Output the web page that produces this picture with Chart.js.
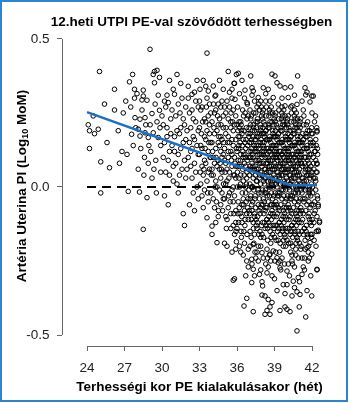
<!DOCTYPE html>
<html>
<head>
<meta charset="utf-8">
<script src="https://cdn.jsdelivr.net/npm/chart.js@4.4.1/dist/chart.umd.min.js"></script>
<style>
  html, body { margin: 0; padding: 0; background: #fff; }
  #wrap { width: 350px; height: 403px; }
</style>
</head>
<body>
<div id="wrap"><canvas id="chart" width="350" height="403"></canvas></div>
<script>
// ----------------- Data -----------------
// [gestational week at PE onset, uterine artery PI (log10 MoM)]
const pe24to29 = [
  [24.2,0.19],[24.9,0.195],[24.6,0.18],[24.2,0.13],[24.5,0.24],[24.1,0.21],
  [25.0,0.39],[25.1,0.085],[25.8,0.065],[25.4,0.28],[25.1,-0.02],[25.6,0.15],
  [26.6,0.08],[26.2,0.26],[26.9,0.25],[26.2,0.33],[26.5,0.19],[26.8,0.12],
  [27.65,0.38],[27.4,0.355],[27.8,0.33],[27.8,0.30],[27.3,-0.015],[27.84,0.234],[27.57,0.178],[27.9,0.2],[27.2,0.11],[27.5,0.27],[27.7,0.14],[27.1,0.29],
  [28.0,0.315],[28.5,0.327],[28.5,0.307],[28.8,0.293],[28.4,0.294],[28.24,0.229],[28.64,0.234],[28.1,0.195],[28.24,0.172],[28.64,0.183],
  [28.9,0.167],[28.2,-0.017],[28.8,-0.036],[28.5,-0.143],[28.3,0.13],[28.6,0.1],[28.9,0.08],[28.1,0.06],[28.7,0.21],[28.4,0.26],[28.95,0.14],[28.55,0.04],
  [29.04,0.465],[29.4,0.39],[29.6,0.394],[29.3,0.38],[29.8,0.37],[29.4,0.352],[29.2,0.248],[29.8,0.259],[29.3,0.183],[29.7,0.167],
  [29.84,0.2],[29.1,0.12],[29.5,0.09],[29.9,0.05],[29.2,0.03],[29.6,0.22],[29.45,0.28],[29.9,0.14],[29.05,0.21],[29.7,0.31],[29.35,0.06],[29.55,-0.02]
];
const pe30to32 = [
  [30.1,0.21],[30.4,0.31],[30.5,0.285],[30.8,0.26],[30.9,0.33],[30.2,0.15],[30.6,0.12],[30.3,0.05],[30.7,0.18],[30.0,0.24],
  [30.5,0.09],[30.9,0.02],[30.2,-0.03],[30.6,0.36],[30.4,0.2],[30.8,0.14],[30.1,0.1],[30.7,0.23],[30.3,0.27],[30.9,0.07],
  [30.5,-0.06],[30.4,0.17],[30.6,0.04],[30.2,0.29],
  [31.0,0.313],[31.3,0.28],[31.44,0.25],[31.2,0.19],[31.7,0.23],[31.0,0.17],[31.5,0.13],[31.8,0.21],[31.1,0.08],[31.6,0.06],
  [31.9,0.16],[31.3,0.11],[31.7,-0.09],[31.8,-0.13],[31.2,0.01],[31.5,0.35],[31.9,0.27],[31.4,0.04],[31.1,0.24],[31.6,0.3],
  [31.0,0.12],[31.8,0.09],[31.3,-0.02],[31.5,0.2],[31.7,0.15],[31.2,0.38],[31.9,0.03],[31.4,0.18],
  [32.1,0.3],[32.4,0.313],[32.2,0.25],[32.7,0.22],[32.5,0.17],[32.9,0.27],[32.3,0.12],[32.6,0.08],[32.8,0.14],[32.0,0.19],
  [32.4,0.03],[32.9,-0.04],[32.2,-0.06],[32.6,0.32],[32.8,0.36],[32.5,0.23],[32.1,0.1],[32.7,0.05],[32.3,0.2],[32.9,0.11],
  [32.0,0.06],[32.6,0.16],[32.4,0.26],[32.8,0.0],[32.2,0.15],[32.5,-0.02],[32.7,0.29],[32.1,0.34],[32.9,0.19],[32.3,0.07],
  [32.6,-0.08],[32.4,0.13]
];
const pe33to35 = [
  [33.04,0.33],[33.6,0.452],[33.7,0.324],[33.6,-0.104],[33.2,0.27],[33.5,0.22],[33.8,0.18],[33.1,0.14],[33.4,0.09],[33.9,0.25],
  [33.3,0.04],[33.7,0.12],[33.0,0.2],[33.5,0.16],[33.8,0.06],[33.2,-0.03],[33.6,0.3],[33.9,0.1],[33.4,0.23],[33.1,0.01],
  [33.7,-0.05],[33.3,0.36],[33.5,0.08],[33.8,0.28],[33.0,0.11],[33.6,0.19],[33.2,0.13],[33.9,-0.02],[33.4,0.17],[33.7,0.05],
  [33.1,0.26],[33.5,0.34],[33.3,-0.07],[33.8,0.21],[33.6,0.02],[33.9,0.15],[33.2,0.07],[33.4,-0.01],[33.0,0.29],[33.7,0.24],
  [34.0,-0.132],[34.0,-0.16],[34.4,-0.188],[34.1,0.341],[34.24,0.307],[34.8,0.29],[34.3,0.26],[34.6,0.23],[34.9,0.2],[34.2,0.18],
  [34.5,0.15],[34.7,0.12],[34.1,0.1],[34.4,0.07],[34.8,0.05],[34.3,0.02],[34.6,-0.01],[34.9,-0.04],[34.2,-0.07],[34.5,-0.1],
  [34.7,0.27],[34.0,0.22],[34.9,0.33],[34.6,0.36],[34.3,0.13],[34.8,0.16],[34.1,0.04],[34.5,0.09],[34.7,-0.06],[34.4,0.19],
  [34.9,0.11],[34.2,0.25],[34.6,0.06],[34.0,0.15],[34.8,-0.02],[34.3,0.31],[34.5,0.21],[34.1,-0.04],[34.7,0.17],[34.4,0.0],
  [34.9,0.24],[34.2,0.08],[34.6,0.14],[34.3,-0.12],[34.8,0.1],[34.5,0.28],[34.0,0.06],[34.7,0.03],
  [35.0,-0.19],[35.2,-0.2],[35.6,-0.22],[35.9,-0.21],[35.95,-0.185],[35.8,-0.31],[35.2,0.29],[35.4,0.32],[35.8,0.35],[35.95,0.38],
  [35.3,0.39],[35.1,0.25],[35.5,0.22],[35.7,0.19],[35.9,0.16],[35.0,0.13],[35.3,0.1],[35.6,0.07],[35.8,0.04],[35.1,0.01],
  [35.4,-0.02],[35.7,-0.05],[35.9,-0.08],[35.2,-0.11],[35.5,-0.14],[35.8,-0.16],[35.0,0.27],[35.6,0.3],[35.3,0.17],[35.9,0.24],
  [35.5,0.12],[35.1,0.08],[35.7,0.14],[35.4,0.05],[35.8,0.1],[35.2,0.02],[35.6,-0.01],[35.0,-0.04],[35.9,-0.12],[35.3,-0.07],
  [35.7,0.26],[35.5,0.2],[35.1,0.18],[35.8,0.21],[35.4,0.15],[35.6,0.11],[35.2,0.06],[35.9,0.03],[35.3,0.23],[35.7,0.0],
  [35.5,-0.09],[35.0,0.09],[35.8,-0.03],[35.4,0.27],[35.6,0.16],[35.1,-0.1],[35.9,0.07],[35.3,0.12],[35.7,-0.13],
  [33.15,0.18],[33.35,0.06],[33.55,0.27],[33.75,0.15],[33.95,0.04],[34.05,0.12],[34.25,0.0],[34.45,0.24],[34.65,0.08],[34.85,-0.08],
  [34.15,0.2],[34.35,-0.05],[34.55,0.17],[34.75,0.06],[34.95,0.15],[35.05,0.05],[35.25,0.15],[35.45,-0.05],[35.65,0.22],[35.85,0.08],
  [35.15,-0.14],[35.35,0.03],[35.55,0.09],[35.75,-0.09],[35.95,0.13],[35.12,0.2],[35.32,-0.03],[35.52,0.25],[35.72,0.04],[35.92,-0.15],
  [34.12,0.28],[34.32,0.1],[34.52,-0.08],[34.72,0.21],[34.92,0.01],[33.45,0.13],[33.65,-0.02],[33.85,0.1],[33.25,0.22],[33.05,0.05]
];
const pe36to38 = [
  [36.0,0.12],[36.1,-0.05],[36.2,0.2],[36.3,0.04],[36.4,-0.12],[36.5,0.16],[36.6,0.08],[36.7,-0.02],[36.8,0.23],[36.9,0.1],
  [36.05,0.27],[36.15,0.14],[36.25,-0.09],[36.35,0.19],[36.45,0.06],[36.55,-0.15],[36.65,0.25],[36.75,0.01],[36.85,-0.07],[36.95,0.17],
  [36.1,0.09],[36.3,0.22],[36.5,-0.04],[36.7,0.13],[36.9,-0.11],[36.2,0.0],[36.4,0.18],[36.6,-0.08],[36.8,0.05],[36.0,-0.14],
  [36.15,0.03],[36.35,-0.17],[36.55,0.11],[36.75,0.2],[36.95,-0.01],[36.25,0.15],[36.45,0.26],[36.65,-0.11],[36.85,0.14],[36.05,0.07],
  [36.2,-0.2],[36.6,0.3],[36.9,0.24],[36.4,-0.06],[36.7,0.07],[36.3,0.11],[36.8,-0.16],[36.1,0.17],[36.5,0.02],[36.0,0.21],
  [36.03,0.05],[36.12,0.13],[36.18,-0.07],[36.27,0.09],[36.33,0.21],[36.42,-0.02],[36.48,0.1],[36.57,0.19],[36.63,-0.13],[36.72,0.16],
  [36.78,0.03],[36.87,-0.04],[36.93,0.12],[36.08,0.19],[36.22,0.07],[36.38,-0.1],[36.52,0.24],[36.68,0.0],[36.82,0.09],[36.97,-0.08],
  [36.13,-0.12],[36.28,0.01],[36.43,0.14],[36.58,0.04],[36.73,-0.05],[36.88,0.18],[36.02,0.0],[36.17,0.22],[36.32,-0.15],[36.47,0.12],
  [36.62,0.15],[36.77,-0.09],[36.92,0.06],[36.07,-0.09],[36.37,0.07],[36.67,0.1],[36.97,0.2],[36.53,-0.06],[36.83,0.28],[36.23,0.17],
  [37.0,0.15],[37.1,-0.03],[37.2,0.08],[37.3,0.21],[37.4,-0.1],[37.5,0.13],[37.6,0.02],[37.7,-0.06],[37.8,0.18],[37.9,0.05],
  [37.05,-0.15],[37.15,0.24],[37.25,0.11],[37.35,-0.01],[37.45,0.16],[37.55,-0.13],[37.65,0.22],[37.75,0.09],[37.85,-0.09],[37.95,0.27],
  [37.0,0.04],[37.2,-0.08],[37.4,0.19],[37.6,0.12],[37.8,-0.04],[37.1,0.1],[37.3,-0.12],[37.5,0.25],[37.7,0.06],[37.9,-0.17],
  [37.15,0.0],[37.35,0.14],[37.55,0.2],[37.75,-0.02],[37.95,0.11],[37.05,0.18],[37.25,-0.05],[37.45,0.07],[37.65,-0.1],[37.85,0.15],
  [37.1,0.23],[37.3,0.03],[37.5,-0.07],[37.7,0.17],[37.9,0.01],[37.2,0.13],[37.4,-0.16],[37.6,0.09],[37.8,0.26],[37.0,-0.09],
  [37.25,0.17],[37.45,-0.03],[37.65,0.05],[37.85,0.21],[37.05,0.07],[37.35,-0.19],[37.55,0.02],[37.75,0.13],[37.95,-0.06],[37.15,-0.11],
  [37.4,0.29],[37.6,-0.14],[37.8,0.08],[37.3,0.1],[37.7,-0.2],[37.1,0.06],[37.5,0.16],[37.9,0.19],[37.2,0.31],[37.6,0.27],
  [37.03,0.01],[37.12,0.12],[37.18,-0.06],[37.27,0.07],[37.33,0.2],[37.42,-0.04],[37.48,0.09],[37.57,0.17],[37.63,-0.12],[37.72,0.14],
  [37.78,0.03],[37.87,-0.07],[37.93,0.16],[37.08,0.21],[37.22,0.05],[37.38,-0.09],[37.52,0.22],[37.68,-0.01],[37.82,0.11],[37.97,-0.13],
  [37.13,-0.17],[37.28,0.0],[37.43,0.12],[37.58,0.06],[37.73,-0.16],[37.88,0.2],[37.02,0.1],[37.17,0.16],[37.32,-0.14],[37.47,0.04],
  [37.62,0.18],[37.77,-0.08],[37.92,0.08],[37.07,-0.04],[37.37,0.06],[37.67,0.11],[37.97,0.24],[37.53,-0.11],[37.83,0.04],[37.23,0.19],
  [37.04,0.26],[37.34,0.25],[37.64,0.23],[37.94,-0.02],[37.14,0.15],[37.44,-0.22],[37.74,0.28],[37.24,0.0],[37.54,0.14],[37.84,-0.15],
  [38.0,0.1],[38.1,-0.04],[38.2,0.17],[38.3,0.03],[38.4,-0.11],[38.5,0.2],[38.6,0.07],[38.7,-0.06],[38.8,0.14],[38.9,0.0],
  [38.05,0.23],[38.15,0.12],[38.25,-0.08],[38.35,0.16],[38.45,-0.14],[38.55,0.05],[38.65,0.25],[38.75,-0.02],[38.85,0.19],[38.95,-0.1],
  [38.0,-0.16],[38.2,0.06],[38.4,0.13],[38.6,-0.03],[38.8,0.22],[38.1,0.18],[38.3,-0.07],[38.5,0.09],[38.7,0.15],[38.9,-0.13],
  [38.15,0.02],[38.35,0.27],[38.55,-0.1],[38.75,0.11],[38.95,0.04],[38.05,-0.01],[38.25,0.21],[38.45,0.08],[38.65,-0.15],[38.85,0.06],
  [38.1,0.14],[38.3,0.19],[38.5,-0.05],[38.7,0.02],[38.9,0.17],[38.2,-0.12],[38.4,0.04],[38.6,0.16],[38.8,-0.08],[38.0,0.07],
  [38.25,0.1],[38.45,-0.18],[38.65,0.12],[38.85,-0.04],[38.05,0.15],[38.35,-0.02],[38.55,0.24],[38.75,0.07],[38.95,0.21],[38.15,-0.09],
  [38.3,0.29],[38.7,-0.19],[38.1,0.26],[38.9,0.1],[38.5,0.13],[38.2,0.01],[38.6,0.2],[38.4,-0.21],[38.8,0.03],[38.0,0.18],
  [38.45,0.16],[38.65,0.05],[38.25,-0.14],[38.85,0.25],[38.55,0.0],[38.35,0.08],[38.75,-0.11],[38.15,0.22],[38.95,-0.06],[38.05,-0.12],
  [38.03,0.04],[38.12,0.11],[38.18,-0.05],[38.27,0.06],[38.33,0.19],[38.42,-0.03],[38.48,0.1],[38.57,0.16],[38.63,-0.13],[38.72,0.13],
  [38.78,0.01],[38.87,-0.09],[38.93,0.14],[38.08,0.2],[38.22,0.03],[38.38,-0.11],[38.52,0.21],[38.68,0.0],[38.82,0.09],[38.97,-0.14],
  [38.13,-0.17],[38.28,-0.01],[38.43,0.11],[38.58,0.07],[38.73,-0.17],[38.88,0.18],[38.02,0.12],[38.17,0.15],[38.32,-0.13],[38.47,0.02],
  [38.62,0.17],[38.77,-0.06],[38.92,0.07],[38.07,-0.06],[38.37,0.05],[38.67,0.09],[38.97,0.23],[38.53,-0.12],[38.83,0.02],[38.23,0.18],
  [38.04,0.25],[38.34,0.24],[38.64,0.22],[38.94,-0.03],[38.14,0.13],[38.44,-0.24],[38.74,0.27],[38.24,-0.02],[38.54,0.12],[38.84,-0.16],
  [38.09,0.08],[38.39,-0.07],[38.69,-0.09],[38.99,0.12],[38.59,0.26]
];
const pe39to42 = [
  [39.0,0.08],[39.1,-0.05],[39.2,0.16],[39.3,0.02],[39.4,-0.12],[39.5,0.19],[39.6,0.06],[39.7,-0.08],[39.8,0.13],[39.9,-0.01],
  [39.05,0.22],[39.15,0.1],[39.25,-0.09],[39.35,0.15],[39.45,-0.16],[39.55,0.04],[39.65,0.24],[39.75,-0.03],[39.85,0.18],[39.95,-0.11],
  [39.0,-0.17],[39.2,0.05],[39.4,0.12],[39.6,-0.04],[39.8,0.21],[39.1,0.17],[39.3,-0.07],[39.5,0.08],[39.7,0.14],[39.9,-0.14],
  [39.15,0.01],[39.35,0.26],[39.55,-0.11],[39.75,0.1],[39.95,0.03],[39.05,-0.02],[39.25,0.2],[39.45,0.07],[39.65,-0.15],[39.85,0.05],
  [39.1,0.13],[39.3,0.18],[39.5,-0.06],[39.7,0.01],[39.9,0.16],[39.2,-0.13],[39.4,0.03],[39.6,0.15],[39.8,-0.09],[39.0,0.06],
  [39.25,0.09],[39.45,-0.19],[39.65,0.11],[39.85,-0.05],[39.05,0.14],[39.35,-0.03],[39.55,0.23],[39.75,0.06],[39.95,0.2],[39.15,-0.1],
  [39.3,0.28],[39.7,-0.2],[39.1,0.25],[39.9,0.09],[39.5,0.12],[39.2,0.0],[39.6,0.19],[39.4,-0.22],[39.8,0.02],[39.0,0.17],
  [39.45,0.15],[39.65,0.04],[39.25,-0.15],[39.85,0.24],[39.55,-0.01],[39.35,0.07],[39.75,-0.12],[39.15,0.21],[39.95,-0.07],[39.05,-0.13],
  [39.3,-0.18],[39.6,0.27],[39.8,-0.16],[39.2,0.11],[39.7,0.22],
  [39.03,0.03],[39.12,0.1],[39.18,-0.06],[39.27,0.05],[39.33,0.18],[39.42,-0.02],[39.48,0.09],[39.57,0.15],[39.63,-0.14],[39.72,0.12],
  [39.78,0.0],[39.87,-0.1],[39.93,0.13],[39.08,0.19],[39.22,0.02],[39.38,-0.12],[39.52,0.2],[39.68,-0.01],[39.82,0.08],[39.97,-0.15],
  [39.13,-0.18],[39.28,-0.02],[39.43,0.1],[39.58,0.06],[39.73,-0.18],[39.88,0.17],[39.02,0.11],[39.17,0.14],[39.32,-0.14],[39.47,0.01],
  [39.62,0.16],[39.77,-0.07],[39.92,0.06],[39.07,-0.07],[39.37,0.04],[39.67,0.08],[39.97,0.22],[39.53,-0.13],[39.83,0.01],[39.23,0.17],
  [39.04,0.24],[39.34,0.23],[39.64,0.21],[39.94,-0.04],[39.14,0.12],[39.44,-0.25],[39.74,0.26],[39.24,-0.03],[39.54,0.11],[39.84,-0.17],
  [39.09,0.07],[39.39,-0.08],[39.69,-0.1],[39.99,0.11],[39.59,0.25],
  [40.0,0.07],[40.1,-0.06],[40.2,0.15],[40.3,0.01],[40.4,-0.13],[40.5,0.18],[40.6,0.05],[40.7,-0.09],[40.8,0.12],[40.9,-0.02],
  [40.05,0.21],[40.15,0.09],[40.25,-0.1],[40.35,0.14],[40.45,-0.17],[40.55,0.03],[40.65,0.23],[40.75,-0.04],[40.85,0.17],[40.95,-0.12],
  [40.0,-0.18],[40.2,0.04],[40.4,0.11],[40.6,-0.05],[40.8,0.2],[40.1,0.16],[40.3,-0.08],[40.5,0.07],[40.7,0.13],[40.9,-0.15],
  [40.15,0.0],[40.35,0.25],[40.55,-0.12],[40.75,0.09],[40.95,0.02],[40.05,-0.03],[40.25,0.19],[40.45,0.06],[40.65,-0.16],[40.85,0.04],
  [40.1,0.12],[40.3,0.17],[40.5,-0.07],[40.7,0.0],[40.9,0.15],[40.2,-0.14],[40.4,0.02],[40.6,0.14],[40.8,-0.1],[40.0,0.05],
  [40.25,0.08],[40.45,-0.2],[40.65,0.1],[40.85,-0.06],[40.05,0.13],[40.35,-0.04],[40.55,0.22],[40.75,0.05],[40.95,0.19],[40.15,-0.11],
  [40.3,0.27],[40.7,-0.21],[40.1,0.24],[40.9,0.08],[40.5,0.11],[40.2,-0.01],[40.6,0.18],[40.4,-0.23],[40.8,0.01],[40.0,0.16],
  [40.45,0.14],[40.65,0.03],[40.25,-0.16],[40.85,0.23],[40.55,-0.02],[40.35,0.06],[40.75,-0.13],[40.15,0.2],[40.95,-0.08],[40.05,-0.14],
  [40.3,-0.19],[40.6,0.26],[40.8,-0.17],[40.2,0.1],[40.7,0.21],
  [40.03,0.02],[40.12,0.09],[40.18,-0.07],[40.27,0.04],[40.33,0.17],[40.42,-0.03],[40.48,0.08],[40.57,0.14],[40.63,-0.15],[40.72,0.11],
  [40.78,-0.01],[40.87,-0.11],[40.93,0.12],[40.08,0.18],[40.22,0.01],[40.38,-0.13],[40.52,0.19],[40.68,-0.02],[40.82,0.07],[40.97,-0.16],
  [40.13,-0.19],[40.28,-0.03],[40.43,0.09],[40.58,0.05],[40.73,-0.19],[40.88,0.16],[40.02,0.1],[40.17,0.13],[40.32,-0.15],[40.47,0.0],
  [40.62,0.15],[40.77,-0.08],[40.92,0.05],[40.07,-0.08],[40.37,0.03],[40.67,0.07],[40.97,0.21],[40.53,-0.14],[40.83,0.0],[40.23,0.16],
  [40.04,0.23],[40.34,0.22],[40.64,0.2],[40.94,-0.05],[40.14,0.11],[40.44,-0.26],[40.74,0.25],[40.24,-0.04],[40.54,0.1],[40.84,-0.18],
  [40.09,0.06],[40.39,-0.09],[40.69,-0.11],[40.99,0.1],[40.59,0.24],
  [41.0,0.06],[41.1,-0.07],[41.2,0.14],[41.3,0.0],[41.4,-0.14],[41.5,0.17],[41.6,0.04],[41.7,-0.1],[41.8,0.11],[41.9,-0.03],
  [41.05,0.2],[41.15,0.08],[41.25,-0.11],[41.35,0.13],[41.45,-0.18],[41.55,0.02],[41.65,0.22],[41.75,-0.05],[41.85,0.16],[41.95,-0.13],
  [41.0,-0.19],[41.2,0.03],[41.4,0.1],[41.6,-0.06],[41.8,0.19],[41.1,0.15],[41.3,-0.09],[41.5,0.06],[41.7,0.12],[41.9,-0.16],
  [41.15,-0.01],[41.35,0.24],[41.55,-0.13],[41.75,0.08],[41.95,0.01],[41.05,-0.04],[41.25,0.18],[41.45,0.05],[41.65,-0.17],[41.85,0.03],
  [41.1,0.11],[41.3,0.16],[41.5,-0.08],[41.7,-0.01],[41.9,0.14],[41.2,-0.15],[41.4,0.01],[41.6,0.13],[41.8,-0.11],[41.0,0.04],
  [41.25,0.07],[41.45,-0.21],[41.65,0.09],[41.85,-0.07],[41.05,0.12],[41.35,-0.05],[41.55,0.21],[41.75,0.04],[41.95,0.18],[41.15,-0.12],
  [41.3,0.26],[41.7,-0.22],[41.1,0.23],[41.9,0.07],[41.5,0.1],[41.2,-0.02],[41.6,0.17],[41.4,-0.24],[41.8,0.0],[41.0,0.15],
  [41.03,0.01],[41.12,0.08],[41.18,-0.08],[41.27,0.03],[41.33,0.16],[41.42,-0.04],[41.48,0.07],[41.57,0.13],[41.63,-0.16],[41.72,0.1],
  [41.78,-0.02],[41.87,-0.12],[41.93,0.11],[41.08,0.17],[41.22,0.0],[41.38,-0.14],[41.52,0.18],[41.68,-0.03],[41.82,0.06],[41.97,-0.17],
  [41.13,-0.2],[41.28,-0.04],[41.43,0.08],[41.58,0.04],[41.73,-0.2],[41.88,0.15],[41.02,0.09],[41.17,0.12],[41.32,-0.16],[41.47,-0.01],
  [41.62,0.14],[41.77,-0.09],[41.92,0.04],[41.07,-0.09],[41.37,0.02],[41.67,0.06],[41.97,0.2],[41.53,-0.15],[41.83,-0.01],[41.23,0.15],
  [41.04,0.22],[41.34,0.21],[41.64,0.19],[41.94,-0.06],[41.14,0.1],
  [42.0,0.05],[42.1,-0.06],[42.2,0.12],[42.3,-0.01],[42.4,0.08],[42.05,0.18],[42.15,-0.12],[42.25,0.03],[42.35,0.14],[42.45,-0.04],
  [42.0,-0.16],[42.2,0.22],[42.4,-0.1],[42.1,0.1],[42.3,0.16],[42.05,-0.02],[42.25,-0.08],[42.15,0.06],[42.35,-0.15],[42.0,0.25],
  [42.4,0.19],[42.4,0.05],[42.3,0.02],[42.5,-0.06],[42.6,-0.12],[42.5,-0.15],[42.4,-0.28],[42.1,0.14],[42.45,0.11],[42.3,0.09],
  [42.03,0.0],[42.12,0.08],[42.18,-0.09],[42.27,0.12],[42.33,0.05],[42.42,-0.03],[42.08,0.15],[42.22,-0.05],[42.38,0.2],[42.02,-0.11],
  [42.28,0.24],[42.13,0.03],[42.43,0.13],[42.17,-0.18],[42.32,-0.2]
];
const peLateHigh = [
  [36.1,0.384],[37.1,0.375],[39.04,0.375],[40.85,0.375],[35.76,0.35],[36.64,0.327],[36.2,0.315],[37.2,0.335],[37.3,0.324],[38.1,0.335],
  [38.5,0.33],[39.2,0.352],[39.44,0.341],[39.84,0.335],[40.3,0.338],[41.44,0.335],[41.5,0.311],[41.98,0.307],[41.84,0.287],[40.8,0.279],
  [40.4,0.274],[39.84,0.274],[40.1,0.302],[38.9,0.302],[38.64,0.29],[37.7,0.302],[36.8,0.285],[35.84,0.296],[35.6,0.33],[38.8,0.381],
  [42.1,0.307],[42.4,0.186],[41.2,0.29],[41.6,0.32],[40.6,0.31],[39.6,0.3],[38.3,0.315],[37.9,0.29],[36.4,0.36]
];
const peLateLow = [
  [36.78,-0.25],[37.18,-0.244],[37.3,-0.278],[37.8,-0.295],[37.18,-0.323],[38.05,-0.334],[36.78,-0.376],[36.56,-0.402],[37.3,-0.421],[38.0,-0.365],
  [38.24,-0.368],[38.5,-0.38],[38.8,-0.39],[38.64,-0.405],[38.4,-0.417],[38.24,-0.43],[38.64,-0.43],[39.44,-0.417],[39.84,-0.405],[40.0,-0.413],
  [40.24,-0.421],[40.98,-0.405],[41.5,-0.439],[40.8,-0.486],[39.84,-0.36],[40.4,-0.368],[40.8,-0.354],[41.04,-0.363],[41.98,-0.368],[42.4,-0.278],
  [41.98,-0.227],[41.6,-0.205],[41.84,-0.188],[41.2,-0.295],[40.9,-0.306],[40.5,-0.318],[40.0,-0.284],[39.44,-0.273],[39.3,-0.256],[39.04,-0.25],
  [39.2,-0.239],[38.9,-0.216],[38.64,-0.227],[38.0,-0.222],[37.7,-0.25],[37.04,-0.2],[37.3,-0.194],[35.7,-0.315],
  [36.3,-0.22],[36.9,-0.27],[37.5,-0.24],[38.3,-0.26],[38.8,-0.3],[39.6,-0.24],[40.1,-0.26],[40.7,-0.23],[41.3,-0.27],[41.8,-0.24],
  [37.9,-0.2],[39.9,-0.2],[41.1,-0.21],[36.6,-0.19],[38.6,-0.23],[40.4,-0.25],[42.5,-0.066],[42.6,-0.115],[42.5,-0.146],[42.4,0.077],
  [36.5,-0.23],[36.9,-0.21],[37.2,-0.26],[37.6,-0.22],[37.9,-0.28],[38.1,-0.24],[38.4,-0.29],[38.7,-0.25],[39.0,-0.31],[39.1,-0.22],
  [39.5,-0.28],[39.8,-0.26],[40.2,-0.3],[40.3,-0.22],[40.6,-0.27],[40.9,-0.24],[41.0,-0.32],[41.4,-0.28],[41.7,-0.25],[41.9,-0.3],
  [38.0,-0.32],[39.7,-0.33],[40.6,-0.34],[37.4,-0.3],[41.6,-0.35],[36.7,-0.3],[39.2,-0.35],[40.0,-0.33],[38.5,-0.27],[41.2,-0.24]
];
// fitted trend (blue) and zero reference (dashed)
const trendLine = [[24, 0.253], [40.3, 0.006], [42.4, 0.006]];
const zeroLine = [[24, 0], [42, 0]];
const xTicks = [24, 27, 30, 33, 36, 39, 42];
const yTicks = [-0.5, 0, 0.5];

const FONT = "'Liberation Sans', Arial, sans-serif";

// ----------------- Plugins -----------------
const decorations = {
  id: "decorations",
  beforeDraw(chart) {
    const ctx = chart.ctx;
    ctx.save();
    ctx.fillStyle = "#fff";
    ctx.fillRect(0, 0, chart.width, chart.height);
    ctx.restore();
  },
  afterDraw(chart) {
    const ctx = chart.ctx;
    const xs = chart.scales.x, ys = chart.scales.y;
    const area = chart.chartArea;
    ctx.save();
    // R style axis lines spanning first..last tick
    ctx.strokeStyle = "#666";
    ctx.lineWidth = 1;
    ctx.beginPath();
    const yb = Math.round(area.bottom) + 0.5;
    ctx.moveTo(xs.getPixelForValue(xTicks[0]), yb);
    ctx.lineTo(xs.getPixelForValue(xTicks[xTicks.length - 1]), yb);
    const xl = Math.round(area.left) + 0.5;
    ctx.moveTo(xl, ys.getPixelForValue(yTicks[0]));
    ctx.lineTo(xl, ys.getPixelForValue(yTicks[yTicks.length - 1]));
    ctx.stroke();

    // titles
    ctx.fillStyle = "#000";
    ctx.textBaseline = "middle";
    ctx.textAlign = "center";
    ctx.font = "bold 13.5px " + FONT;
    ctx.fillText("12.heti UTPI PE-val szövődött terhességben", 191.5, 22);
    ctx.fillText("Terhességi kor PE kialakulásakor (hét)", 199.5, 387);

    // y title with subscript
    const part1 = "Artéria Uterina PI (Log", sub = "10", part2 = " MoM)";
    const big = "bold 13.5px " + FONT, small = "bold 9px " + FONT;
    ctx.font = big;
    const w1 = ctx.measureText(part1).width, w3 = ctx.measureText(part2).width;
    ctx.font = small;
    const w2 = ctx.measureText(sub).width;
    const total = w1 + w2 + w3;
    ctx.translate(22, 186);
    ctx.rotate(-Math.PI / 2);
    ctx.textAlign = "left";
    let x0 = -total / 2;
    ctx.font = big;
    ctx.fillText(part1, x0, 0);
    ctx.font = small;
    ctx.fillText(sub, x0 + w1, 3.5);
    ctx.font = big;
    ctx.fillText(part2, x0 + w1 + w2, 0);
    ctx.restore();

    // frame
    ctx.save();
    ctx.strokeStyle = "#2b83d6";
    ctx.lineWidth = 2;
    ctx.strokeRect(1, 1, 346, 400);
    ctx.restore();
  }
};

// ----------------- Chart -----------------
const toXY = arr => arr.map(([x, y]) => ({ x, y }));
const allPoints = [].concat(pe24to29, pe30to32, pe33to35, pe36to38, pe39to42, peLateHigh, peLateLow);

new Chart(document.getElementById("chart").getContext("2d"), {
  type: "scatter",
  data: {
    datasets: [
      {
        type: "line",
        data: toXY(trendLine),
        borderColor: "#1a70c4",
        borderWidth: 2.5,
        pointRadius: 0,
        showLine: true,
        fill: false,
        order: 0
      },
      {
        type: "line",
        data: toXY(zeroLine),
        borderColor: "#000",
        borderWidth: 2,
        borderDash: [9, 6],
        pointRadius: 0,
        showLine: true,
        fill: false,
        order: 1
      },
      {
        data: toXY(allPoints),
        pointStyle: "circle",
        pointRadius: 2.3,
        pointBorderWidth: 1,
        pointBackgroundColor: "rgba(0,0,0,0)",
        pointBorderColor: "#000",
        order: 2
      }
    ]
  },
  options: {
    responsive: false,
    animation: false,
    devicePixelRatio: 1,
    events: [],
    layout: { padding: { top: 33, right: 25.5, left: 0, bottom: 0 } },
    plugins: { legend: { display: false }, tooltip: { enabled: false }, title: { display: false } },
    scales: {
      x: {
        type: "linear",
        min: 22,
        max: 43,
        afterBuildTicks: s => { s.ticks = xTicks.map(v => ({ value: v })); },
        afterFit: s => { s.height = 57; },
        grid: { drawOnChartArea: false, drawTicks: true, tickLength: 5, color: "#666" },
        border: { display: false },
        ticks: { font: { family: FONT, size: 13.5 }, color: "#222", padding: 9, maxRotation: 0, callback: v => String(v) }
      },
      y: {
        type: "linear",
        min: -0.537,
        max: 0.52,
        afterBuildTicks: s => { s.ticks = yTicks.map(v => ({ value: v })); },
        afterFit: s => { s.width = 62; },
        grid: { drawOnChartArea: false, drawTicks: true, tickLength: 5, color: "#666" },
        border: { display: false },
        ticks: { font: { family: FONT, size: 13.5 }, color: "#222", padding: 7.5, callback: v => v.toFixed(1) }
      }
    }
  },
  plugins: [decorations]
});
</script>
</body>
</html>
